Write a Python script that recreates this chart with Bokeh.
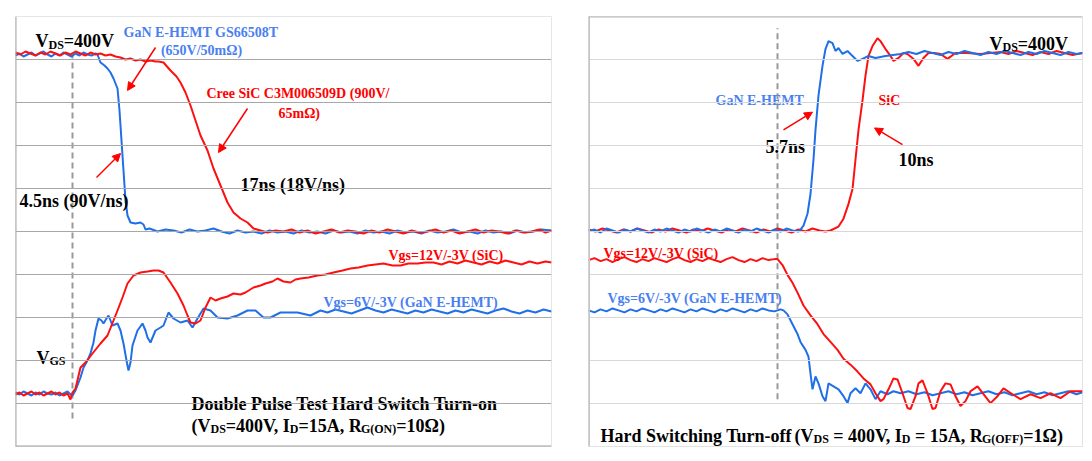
from bokeh.plotting import figure
from bokeh.models import Range1d, Span, Arrow, NormalHead
from bokeh.layouts import row
from bokeh.core.properties import value
from bokeh.embed import file_html
from bokeh.resources import INLINE

# ---------------- data (time samples, scope counts) ----------------
# Left panel: hard switch turn-on
gan_vds_on = [(0,391),(4,393),(8,390),(12,392),(16,394),(20,391),(24,393),(28,395),(32,392),(36,390),
    (40,393),(44,391),(48,394),(52,392),(56,390),(60,393),(64,391),(68,394),(72,392),(76,391),(80,393),
    (82,392),(85,384),(89,381),(92,378),(95,374),(98,368),(102,358),(104,336),(106,306),(108,276),
    (110,246),(112,231),(115,224),(120,223),(125,224),(128,222),(130,217),
    (134,218),(142,215),(150,217),(158,216),(166,214),(174,217),(182,215),(190,216),(198,218),(206,215),
    (214,213),(222,216),(230,214),(238,215),(246,213),(254,216),(262,214),(270,215),(278,213),(286,216),
    (294,214),(302,215),(310,213),(318,216),(326,214),(334,215),(342,213),(350,216),(358,214),(366,215),
    (374,213),(382,216),(390,214),(398,215),(406,213),(414,216),(422,214),(430,215),(438,217),(446,214),
    (454,215),(462,213),(470,216),(478,214),(486,215),(494,213),(502,216),(510,214),(518,215),(526,217),(536,216)]

sic_vds_on = [(0,394),(5,392),(10,395),(15,393),(20,391),(25,394),(30,392),(35,395),(40,393),(45,391),
    (50,394),(55,392),(60,395),(65,393),(70,391),(75,394),(80,392),(85,393),(90,391),(95,392),
    (100,390),(105,389),(110,387),(115,388),(120,386),(125,387),(130,385),(135,386),(140,385),(143,385),
    (148,384),(155,376),(161,370),(165,364),(170,354),(175,341),(180,326),(185,311),(192,296),(198,278),
    (205,261),(212,244),(218,234),(225,228),(232,224),(238,218),(245,216),
    (252,214),(260,216),(268,215),(276,217),(284,214),(292,216),(300,213),(308,215),(316,217),(324,214),
    (332,216),(340,215),(348,213),(356,216),(364,214),(372,217),(380,215),(388,213),(396,216),(404,214),
    (412,215),(420,217),(428,214),(436,216),(444,213),(452,215),(460,217),(468,214),(476,216),(484,215),
    (492,213),(500,216),(508,214),(516,215),(524,217),(530,214),(536,216)]

gan_vgs_on = [(0,54),(4,52),(8,55),(12,53),(16,51),(20,54),(24,52),(28,55),(32,53),(36,52),(40,54),
    (44,51),(48,53),(52,55),(55,52),(57,51),
    (60,56),(65,69),(68,79),(72,86),(75,93),(78,104),(80,116),(83,128),(86,126),(88,123),(91,128),
    (93,131),(97,121),(102,123),(105,116),(108,103),(111,86),(113,76),(115,84),(117,101),(122,116),
    (127,123),(130,116),(132,109),(135,104),(140,116),(145,119),(148,121),(153,134),(158,128),(165,124),
    (172,126),(177,119),(182,128),(188,138),(195,136),(202,129),(212,128),(222,131),(232,136),(240,136),
    (248,129),(255,129),(265,134),(275,134),(282,134),(295,131),(305,136),
    (312,134),(320,137),(328,135),(336,133),(344,136),(352,139),(360,136),(368,134),(376,137),(384,135),
    (392,133),(400,136),(408,134),(416,137),(424,135),(432,133),(440,136),(448,134),(456,137),(464,135),
    (472,133),(480,136),(488,138),(496,135),(504,133),(512,136),(520,134),(528,137),(536,135)]

sic_vgs_on = [(0,52),(4,54),(8,51),(12,53),(16,55),(20,52),(24,54),(28,51),(32,53),(36,55),(40,52),
    (44,54),(48,51),(52,53),(55,47),(57,54),
    (60,58),(65,79),(70,84),(77,93),(85,103),(92,111),(98,126),(102,136),(107,149),(112,163),(118,171),
    (125,174),(132,175),(138,176),(143,176),(148,174),(155,164),(162,153),(168,141),(172,131),(175,124),
    (180,123),(185,126),(190,139),(195,149),(200,146),(205,148),(212,150),(218,153),(225,152),(230,154),
    (238,159),(245,161),(250,163),(257,165),(262,168),(268,165),(275,164),(280,167),(285,168),(293,169),
    (302,171),(310,172),(318,174),(327,176),(335,178),(343,179),(352,181),(360,182),(368,183),(377,181),
    (385,181),(393,183),(402,183),(410,184),(418,184),
    (426,182),(434,185),(442,183),(450,186),(458,184),(466,182),(474,185),(482,183),(490,186),(498,184),
    (506,182),(514,185),(522,183),(530,185),(536,184)]

# Right panel: hard switching turn-off
gan_vds_off = [(0,218),(6,220),(12,217),(18,221),(24,219),(30,217),(36,220),(42,218),(48,221),(54,219),
    (60,217),(66,220),(72,218),(78,221),(84,219),(90,217),(96,220),(102,218),(108,221),(114,219),
    (120,217),(126,220),(132,218),(138,221),(144,219),(150,217),(156,220),(162,218),(168,221),(174,219),
    (180,217),(186,220),(192,218),(198,221),(204,219),(210,218),
    (212,220),(215,224),(219,236),(222,256),(225,291),(227,321),(230,356),(234,386),(237,403),(240,411),
    (244,409),(247,401),(250,404),(254,398),(259,401),(264,396),(269,391),(274,393),(280,396),(287,394),
    (297,396),(312,398),
    (320,400),(328,398),(336,401),(344,399),(352,397),(360,400),(368,398),(376,401),(384,399),(392,397),
    (400,400),(408,398),(416,401),(424,399),(432,397),(440,400),(448,398),(456,401),(464,399),(472,397),
    (480,400),(488,398),(494,399)]

sic_vds_off = [(0,220),(7,218),(14,221),(21,219),(28,217),(35,220),(42,218),(49,221),(56,219),(63,217),
    (70,220),(77,218),(84,221),(91,219),(98,217),(105,220),(112,218),(119,221),(126,219),(133,217),
    (140,220),(147,218),(154,221),(161,219),(168,217),(175,220),(182,218),(189,221),(196,219),(203,217),
    (210,220),(217,218),(224,221),(231,219),(237,218),(242,219),
    (250,223),(255,231),(260,246),(264,261),(267,291),(270,321),(274,351),(277,376),(280,396),(284,406),
    (289,414),(292,411),(297,403),(302,396),(305,391),(310,394),(315,399),(319,398),(325,393),(330,386),
    (335,394),(340,399),(346,399),(352,398),(359,393),(367,399),(379,399),(392,398),(412,400),
    (420,398),(428,401),(436,399),(444,397),(452,400),(460,398),(468,401),(476,399),(484,397),(494,399)]

gan_vgs_off = [(0,138),(6,136),(12,139),(18,137),(24,140),(30,138),(36,136),(42,139),(48,137),(54,140),
    (60,138),(66,136),(72,139),(78,137),(84,140),(90,138),(96,136),(102,139),(108,137),(114,140),
    (120,138),(126,136),(132,139),(138,137),(144,140),(150,138),(156,136),(162,139),(168,137),(174,140),
    (180,138),(186,137),(192,139),(195,138),
    (199,134),(204,124),(209,114),(212,106),(217,98),(220,91),(222,74),(224,58),(227,71),(230,64),
    (234,51),(237,46),(240,64),(245,61),(250,58),(255,51),(259,44),(262,54),(267,59),(272,54),(277,64),
    (282,58),(287,48),(292,56),(299,53),(305,56),(312,54),
    (320,56),(328,53),(336,55),(344,52),(352,54),(360,56),(368,53),(376,55),(384,52),(392,54),(400,56),
    (408,53),(416,55),(424,52),(432,54),(440,56),(448,53),(456,55),(464,52),(472,54),(480,56),(488,53),(494,55)]

sic_vgs_off = [(0,189),(6,191),(12,188),(18,190),(24,187),(30,190),(36,192),(42,189),(48,187),(54,190),
    (60,188),(66,191),(72,189),(78,187),(84,190),(90,192),(96,189),(102,187),(108,190),(114,188),
    (120,191),(126,189),(132,187),(138,190),(144,192),(150,189),(156,187),(162,190),(168,188),(174,191),
    (180,189),(186,190),(189,190),
    (194,184),(199,174),(204,166),(209,156),(215,143),(222,133),(229,124),(235,114),(242,106),(249,98),
    (255,89),(262,83),(269,76),(275,69),(282,63),(287,54),(292,46),(295,48),(300,58),(305,69),(309,68),
    (314,54),(319,39),(322,38),(327,51),(330,64),(334,67),(339,54),(344,38),(347,39),(352,56),(357,64),
    (362,63),(367,51),(372,41),(377,46),(382,56),(389,61),(395,53),(402,44),(409,51),(415,59),(424,53),
    (432,48),(442,53),(452,49),(462,54),(472,49),(482,56),(494,56)]

BLUE = "#1f6fe8"
RED = "#ff1010"
LBLUE = "#4a7ff0"
LRED = "#ff0000"
FONT = value("Liberation Serif")

W = {' ':250,'(':333,')':333,'-':333,'.':250,',':250,'/':278,'=':570,
     'A':722,'C':722,'D':722,'E':667,'F':611,'G':778,'H':778,'I':389,'M':944,'N':722,'O':778,
     'P':611,'R':722,'S':556,'T':667,'V':722,
     'a':500,'b':556,'c':444,'d':556,'e':444,'f':333,'g':500,'h':556,'i':278,'l':278,'m':833,
     'n':556,'o':500,'r':444,'s':389,'t':333,'u':556,'w':722,'\u03a9':768}
KERN = {'V,': -129, 'A,': -40}

def tw(s, size):
    w = sum(W.get(c, 500) for c in s)
    w += sum(KERN.get(s[i:i + 2], 0) for i in range(len(s) - 1))
    return w / 1000.0 * size

def txt(p, x, y, s, size, color="black", align="left"):
    p.text(x=[x], y=[y], text=[s], text_font=FONT, text_font_style="bold",
           text_font_size=f"{size}px", text_color=color, text_baseline="alphabetic",
           text_align=align)

def rich(p, x, y, pieces, color="black"):
    for s, size, dy in pieces:
        lead = len(s) - len(s.lstrip(' '))
        x += tw(' ' * lead, size)
        core = s.strip(' ')
        txt(p, x, y - dy, core, size, color)
        x += tw(core, size)
        trail = len(s) - len(s.rstrip(' '))
        x += tw(' ' * trail, size)

def trace(p, pts, color):
    xs, ys = zip(*pts)
    p.line(list(xs), list(ys), line_color=color, line_width=2)

def arrow(p, x0, y0, x1, y1):
    p.add_layout(Arrow(end=NormalHead(size=8, fill_color=LRED, line_color=LRED, line_width=1),
                       x_start=x0, y_start=y0, x_end=x1, y_end=y1,
                       line_color=LRED, line_width=1.5))

# ---------------- left figure ----------------
p1 = figure(width=570, height=458, x_range=Range1d(0, 536), y_range=Range1d(0, 430),
            x_axis_type=None, y_axis_type=None, toolbar_location=None, output_backend="svg",
            min_border_left=15, min_border_right=19, min_border_top=16, min_border_bottom=12)
p1.outline_line_color = "#e6e6e6"
for k in range(1, 10):
    p1.add_layout(Span(location=43 * k, dimension="width", line_color="#a8a8a8", line_width=1))
p1.add_layout(Span(location=0, dimension="width", line_color="#a0a0a0", line_width=2))
p1.add_layout(Span(location=0, dimension="height", line_color="#a8a8a8", line_width=2))
p1.line([57, 57], [28, 396], line_color="#999999", line_width=2, line_dash="6 4")

trace(p1, gan_vds_on, BLUE)
trace(p1, sic_vds_on, RED)
trace(p1, gan_vgs_on, BLUE)
trace(p1, sic_vgs_on, RED)

rich(p1, 20, 406, [("V", 18, 0), ("DS", 12, 4), ("=400V", 18, 0)])
txt(p1, 108, 414, "GaN E-HEMT GS66508T", 14, LBLUE)
txt(p1, 186, 396, "(650V/50m\u03a9)", 14, LBLUE, "center")
txt(p1, 191, 353, "Cree SiC C3M006509D (900V/", 14, LRED)
txt(p1, 263, 333, "65m\u03a9)", 14, LRED)
txt(p1, 225, 262, "17ns (18V/ns)", 18)
txt(p1, 4, 246, "4.5ns (90V/ns)", 18)
txt(p1, 373, 191, "Vgs=12V/-3V (SiC)", 14, LRED)
txt(p1, 308, 144, "Vgs=6V/-3V (GaN E-HEMT)", 14, LBLUE)
rich(p1, 21, 89, [("V", 18, 0), ("GS", 12, 3)])
txt(p1, 176, 43, "Double Pulse Test Hard Switch Turn-on", 18)
rich(p1, 176, 21, [("(V", 18, 0), ("DS", 12, 3), ("=400V, I", 18, 0), ("D", 12, 3),
                   ("=15A, R", 18, 0), ("G(ON)", 12, 3), ("=10\u03a9)", 18, 0)])
arrow(p1, 140, 399, 112, 356)
arrow(p1, 232, 338, 203, 294)
arrow(p1, 81, 269, 105, 293)

# ---------------- right figure ----------------
p2 = figure(width=514, height=458, x_range=Range1d(0, 494), y_range=Range1d(0, 436),
            x_axis_type=None, y_axis_type=None, toolbar_location=None, output_backend="svg",
            min_border_left=18, min_border_right=2, min_border_top=15, min_border_bottom=7)
p2.outline_line_color = "#e2e2e2"
for k in range(1, 10):
    p2.add_layout(Span(location=43.6 * k, dimension="width", line_color="#d8d8d8", line_width=1))
p2.add_layout(Span(location=0, dimension="height", line_color="#c4c4c4", line_width=3))
p2.add_layout(Span(location=436, dimension="width", line_color="#b4b4b4", line_width=2))
p2.line([189, 189], [48, 424], line_color="#999999", line_width=2, line_dash="6 4")

trace(p2, sic_vds_off, RED)
trace(p2, gan_vds_off, BLUE)
trace(p2, gan_vgs_off, BLUE)
trace(p2, sic_vgs_off, RED)

rich(p2, 401, 408, [("V", 18, 0), ("DS", 12, 3), ("=400V", 18, 0)])
txt(p2, 127, 351, "GaN E-HEMT", 14, LBLUE)
txt(p2, 290, 351, "SiC", 14, LRED)
txt(p2, 177, 304, "5.7ns", 18)
txt(p2, 310, 290, "10ns", 18)
txt(p2, 15, 196, "Vgs=12V/-3V (SiC)", 14, LRED)
txt(p2, 19, 150, "Vgs=6V/-3V (GaN E-HEMT)", 14, LBLUE)
txt(p2, 12, 11, "Hard Switching Turn-off", 18)
rich(p2, 206, 11, [("(V", 18, 0), ("DS", 12, 3), (" = 400V, I", 18, 0),
                   ("D", 12, 3), (" = 15A, R", 18, 0), ("G(OFF)", 12, 3), ("=1\u03a9)", 18, 0)])
arrow(p2, 195, 321, 224, 339)
arrow(p2, 314, 306, 286, 323)

layout = row(p1, p2)
open("out.html", "w").write(file_html(layout, INLINE))
